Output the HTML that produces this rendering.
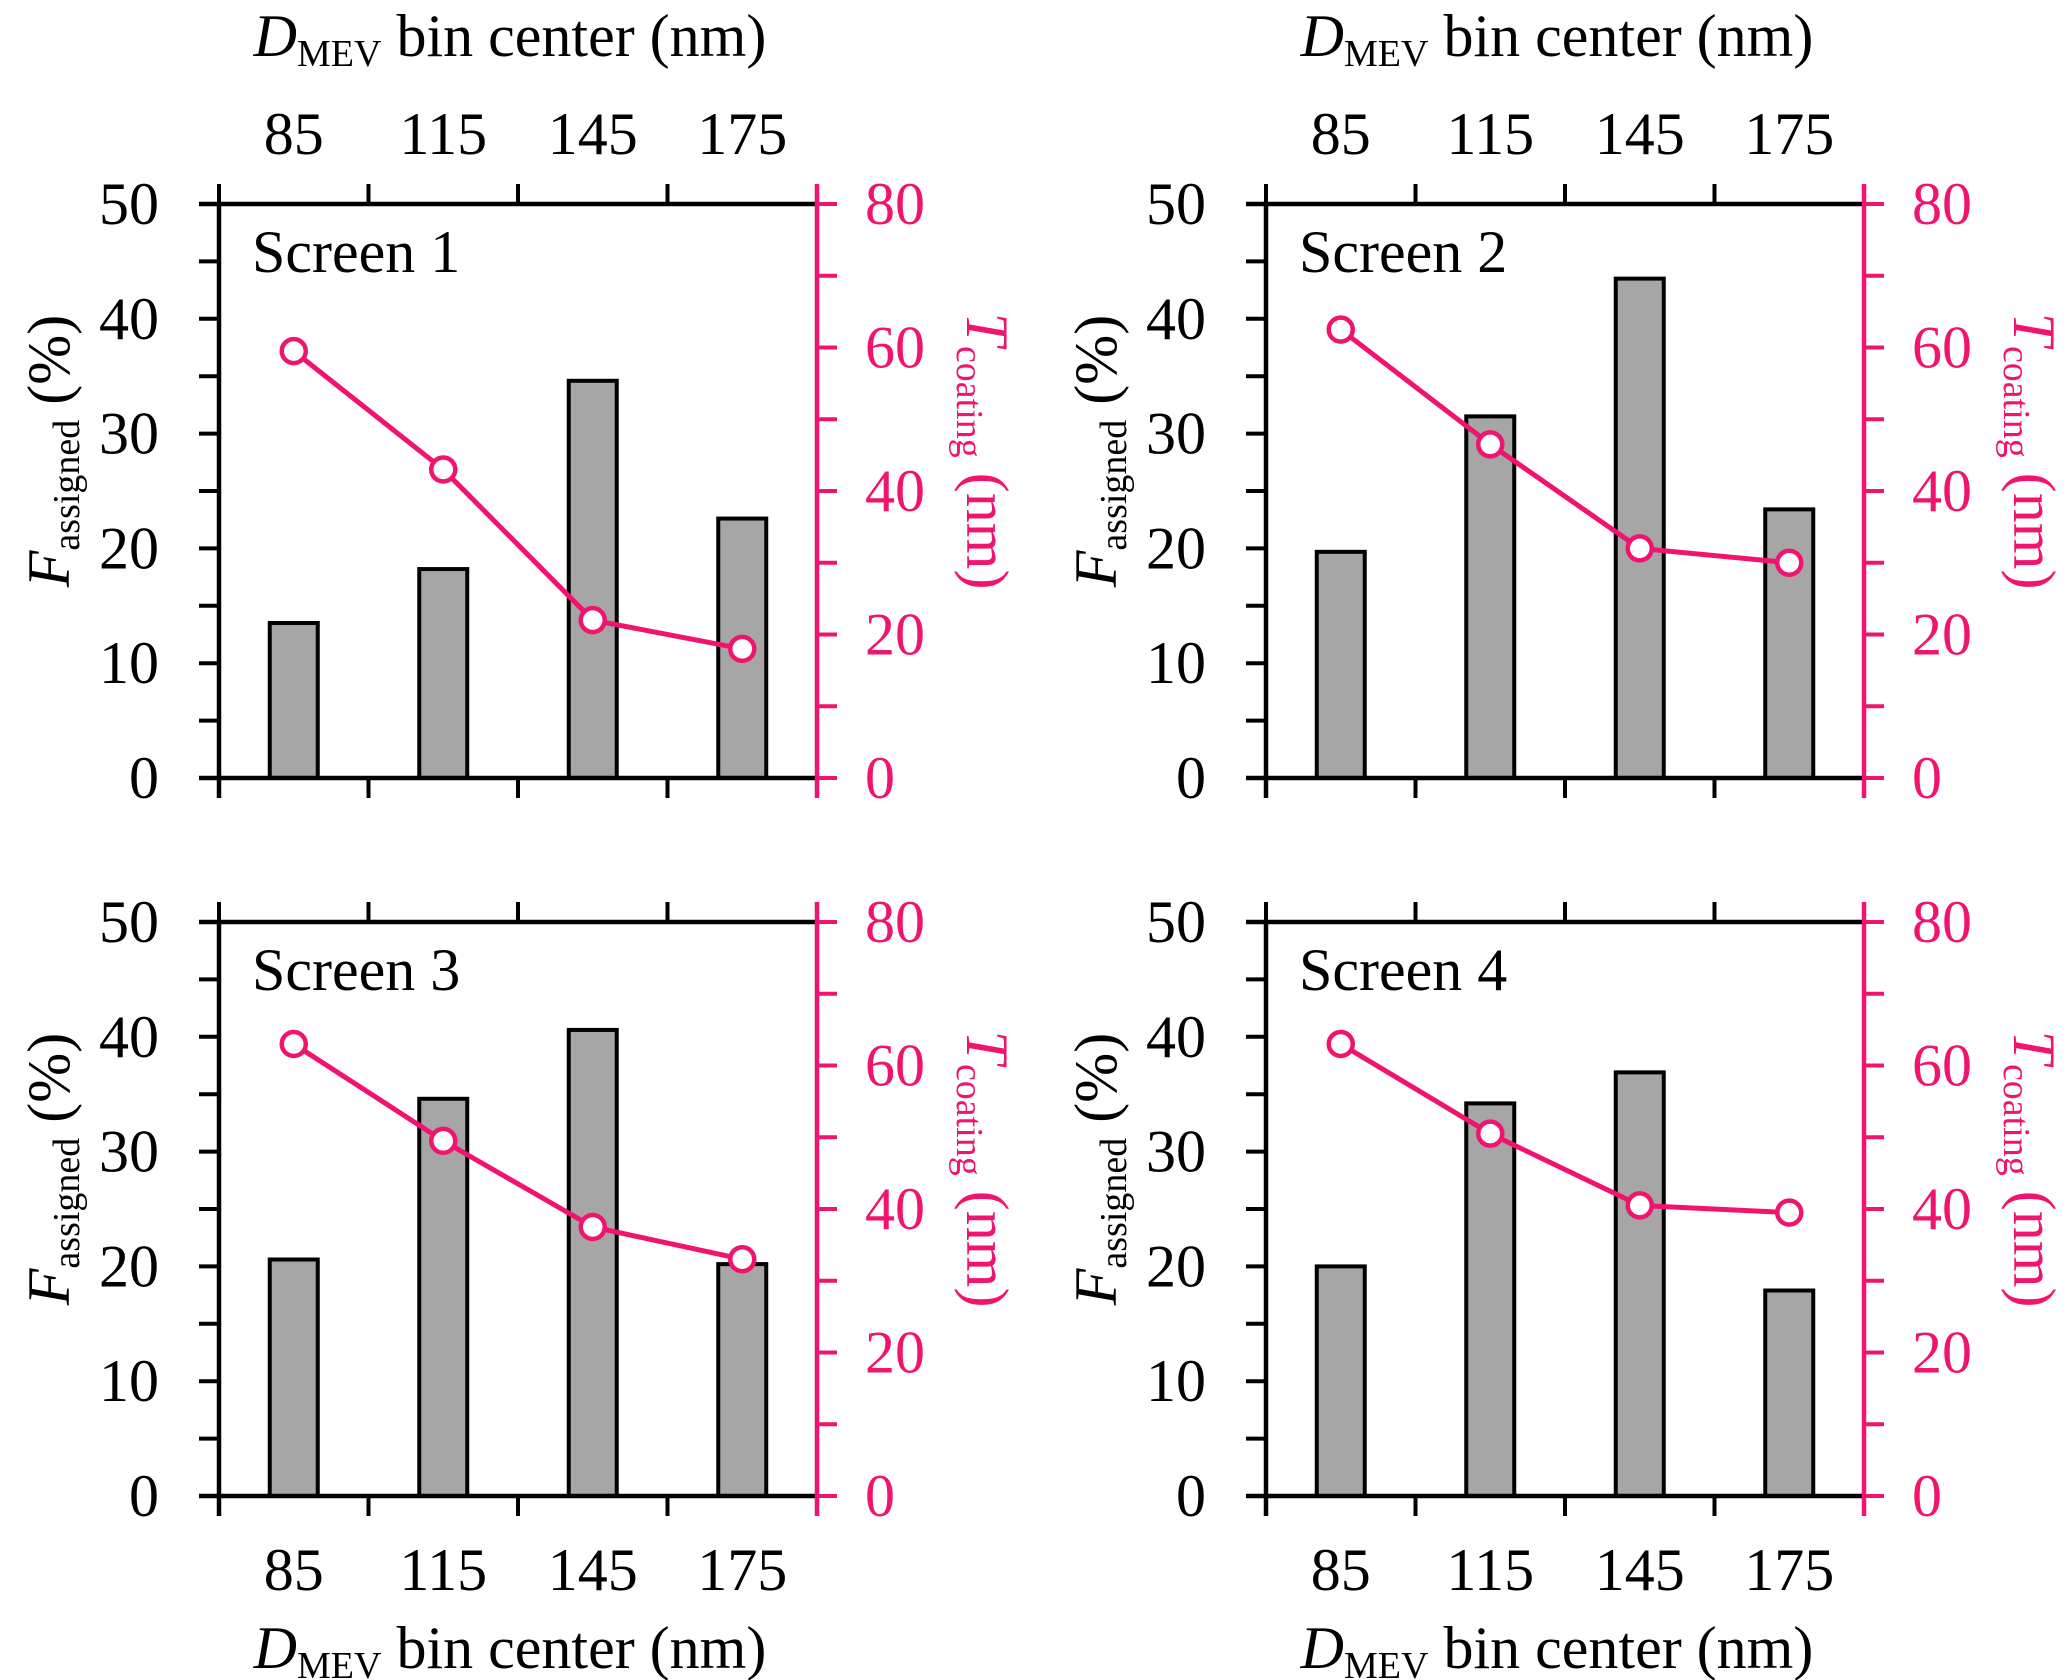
<!DOCTYPE html>
<html><head><meta charset="utf-8">
<style>
html,body{margin:0;padding:0;background:#fff;}
svg{display:block;font-family:"Liberation Serif",serif;}
</style></head>
<body>
<svg id="fig" width="2067" height="1680" viewBox="0 0 2067 1680" xmlns="http://www.w3.org/2000/svg"></svg>
<script>
const categories = ["85","115","145","175"];
const screenNames = ["Screen 1","Screen 2","Screen 3","Screen 4"];
const barsS1 = [13.5, 18.2, 34.6, 22.6];
const barsS2 = [19.7, 31.5, 43.5, 23.4];
const barsS3 = [20.6, 34.6, 40.6, 20.2];
const barsS4 = [20.0, 34.2, 36.9, 17.9];
const lineS1 = [59.5, 43.0, 22.0, 18.0];
const lineS2 = [62.5, 46.5, 32.0, 30.0];
const lineS3 = [63.0, 49.5, 37.5, 33.0];
const lineS4 = [63.0, 50.5, 40.5, 39.5];
const leftTicks = [0,10,20,30,40,50];
const rightTicks = [0,20,40,60,80];

const PINK = "#f0146e";
const NS = "http://www.w3.org/2000/svg";
const svg = document.getElementById("fig");
function mk(tag, attrs, parent, text){
  const e = document.createElementNS(NS, tag);
  for (const k in attrs) e.setAttribute(k, attrs[k]);
  if (text !== undefined) e.textContent = text;
  (parent||svg).appendChild(e);
  return e;
}
const panels = [
  {L:219, T:204, bars:barsS1, line:lineS1, top:true},
  {L:1266, T:204, bars:barsS2, line:lineS2, top:true},
  {L:219, T:922, bars:barsS3, line:lineS3, top:false},
  {L:1266, T:922, bars:barsS4, line:lineS4, top:false}
];
const W = 598, H = 574;
const FS = 60;
panels.forEach((p, i) => {
  const g = mk("g", {});
  
  
  const L = p.L, T = p.T, R = L + W, B = T + H;
  const y = v => B - v / 50 * H;
  const y2 = v => B - v / 80 * H;
  const step = W / 4;
  const xc = k => L + step * (k + 0.5);
  p.bars.forEach((v, k) => {
    const r = mk("rect", {x: xc(k) - 24, y: y(v), width: 48, height: B - y(v), fill: "#a6a6a6", stroke: "#000", "stroke-width": 4}, g);
    
    
  });
  const ax = mk("path", {d: `M${L-20} ${T}H${R}M${L-20} ${B}H${R}M${L} ${T}V${B+20}`, stroke: "#000", "stroke-width": 4.5, fill: "none"}, g);
  
  
  for (let v = 0; v <= 50; v += 5) {
    mk("line", {x1: L-20, x2: L, y1: y(v), y2: y(v), stroke: "#000", "stroke-width": 4}, g);
  }
  leftTicks.forEach(v => {
    const t = mk("text", {x: L - 60, y: y(v) + 20, "font-size": FS, "text-anchor": "end"}, g, String(v));
    
    
  });
  for (let k = 0; k <= 4; k++) {
    const x = L + step * k;
    mk("line", {x1: x, x2: x, y1: T - 20, y2: T, stroke: "#000", "stroke-width": 4}, g);
    mk("line", {x1: x, x2: x, y1: B, y2: B + 20, stroke: "#000", "stroke-width": 4}, g);
  }
  const ra = mk("line", {x1: R, x2: R, y1: T - 20, y2: B + 20, stroke: PINK, "stroke-width": 4.5}, g);
  
  
  for (let v = 0; v <= 80; v += 10) {
    mk("line", {x1: R, x2: R + 20, y1: y2(v), y2: y2(v), stroke: PINK, "stroke-width": 4}, g);
  }
  rightTicks.forEach(v => {
    const t = mk("text", {x: R + 48, y: y2(v) + 20, "font-size": FS, fill: PINK}, g, String(v));
    
    
  });
  const pts = p.line.map((v, k) => xc(k) + "," + y2(v)).join(" ");
  const pl = mk("polyline", {points: pts, fill: "none", stroke: PINK, "stroke-width": 5}, g);
  
  
  p.line.forEach((v, k) => {
    const c = mk("circle", {cx: xc(k), cy: y2(v), r: 12, fill: "#fff", stroke: PINK, "stroke-width": 4.5}, g);
    
    
  });
  const sl = mk("text", {x: L + 33, y: T + 68, "font-size": FS}, g, screenNames[i]);
  
  
  const labY = p.top ? 154 : 1590;
  const titY = p.top ? 60 : 1672;
  categories.forEach((c, k) => {
    const t = mk("text", {x: xc(k), y: labY, "font-size": FS, "text-anchor": "middle"}, g, c);
    
    
  });
  const xt = mk("text", {x: L + W/2 - 8, y: titY - 4, "font-size": FS, "text-anchor": "middle"}, g);
  
  
  mk("tspan", {"font-style": "italic"}, xt, "D");
  mk("tspan", {"font-size": 38, dy: 10}, xt, "MEV");
  mk("tspan", {dy: -10}, xt, " bin center (nm)");
  const cy = T + H/2 - 40;
  const yt = mk("text", {transform: `translate(${L-150},${cy}) rotate(-90)`, "font-size": FS, "text-anchor": "middle"}, g);
  
  
  mk("tspan", {"font-style": "italic"}, yt, "F");
  mk("tspan", {"font-size": 38, dy: 10}, yt, "assigned");
  mk("tspan", {dy: -10}, yt, " (%)");
  const rt = mk("text", {transform: `translate(${R+150},${cy}) rotate(90)`, "font-size": FS, "text-anchor": "middle", fill: PINK}, g);
  
  
  mk("tspan", {"font-style": "italic"}, rt, "T");
  mk("tspan", {"font-size": 38, dy: 10}, rt, "coating");
  mk("tspan", {dy: -10}, rt, " (nm)");
});
</script>
</body></html>
